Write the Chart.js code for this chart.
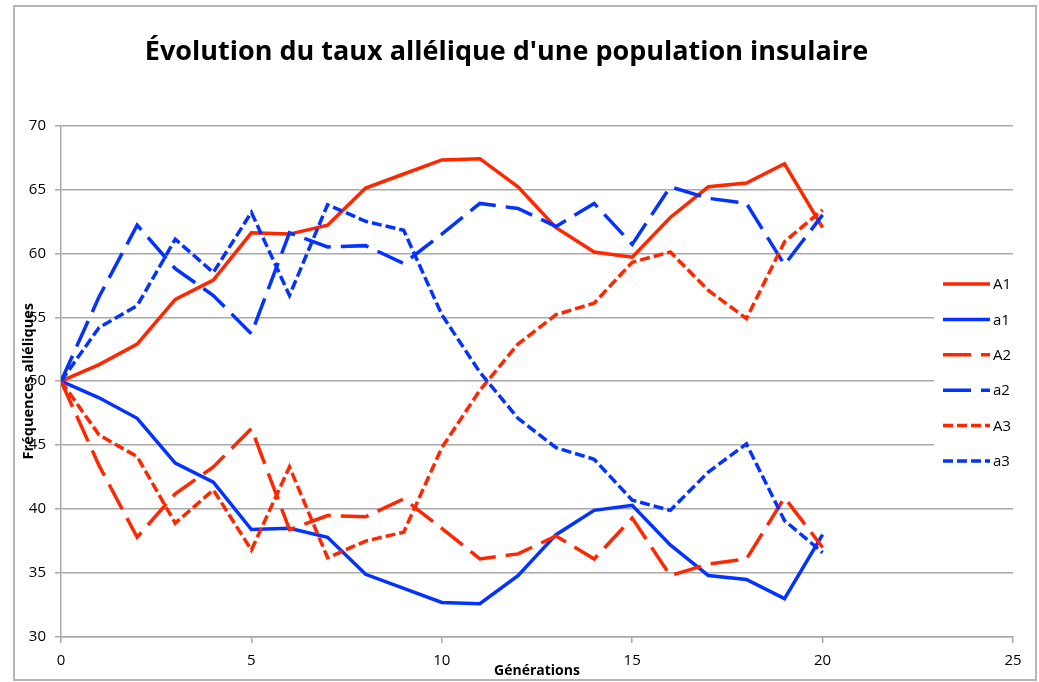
<!DOCTYPE html>
<html>
<head>
<meta charset="utf-8">
<script src="https://cdn.jsdelivr.net/npm/chart.js@4.4.0/dist/chart.umd.min.js"></script>
<style>
  html, body { margin: 0; padding: 0; background: #fff; }
</style>
</head>
<body>
<canvas id="allels" width="1039" height="682"></canvas>
<script>
var generations = [0, 1, 2, 3, 4, 5, 6, 7, 8, 9, 10, 11, 12, 13, 14, 15, 16, 17, 18, 19, 20];

var A1 = [50, 51.3, 52.9, 56.4, 57.9, 61.6, 61.5, 62.2, 65.1, 66.2, 67.3, 67.4, 65.2, 62.0, 60.1, 59.7, 62.8, 65.2, 65.5, 67.0, 62.0];
var a1 = [50, 48.7, 47.1, 43.6, 42.1, 38.4, 38.5, 37.8, 34.9, 33.8, 32.7, 32.6, 34.8, 38.0, 39.9, 40.3, 37.2, 34.8, 34.5, 33.0, 38.0];
var A2 = [50, 43.4, 37.8, 41.2, 43.3, 46.3, 38.4, 39.5, 39.4, 40.8, 38.5, 36.1, 36.5, 37.9, 36.1, 39.3, 34.8, 35.7, 36.1, 40.9, 37.0];
var a2 = [50, 56.6, 62.2, 58.8, 56.7, 53.7, 61.6, 60.5, 60.6, 59.2, 61.5, 63.9, 63.5, 62.1, 63.9, 60.7, 65.2, 64.3, 63.9, 59.1, 63.0];
var A3 = [50, 45.8, 44.1, 38.9, 41.5, 36.8, 43.3, 36.2, 37.5, 38.2, 44.8, 49.3, 52.9, 55.2, 56.1, 59.3, 60.1, 57.1, 54.9, 60.9, 63.4];
var a3 = [50, 54.2, 55.9, 61.1, 58.5, 63.2, 56.7, 63.8, 62.5, 61.8, 55.2, 50.7, 47.1, 44.8, 43.9, 40.7, 39.9, 42.9, 45.1, 39.1, 36.6];

var red = '#ff2600';
var blue = '#0433ff';
var gridColor = '#a9a9a9';
var longDash = [28, 10];
var shortDash = [10, 4];

function points(values) {
    return values.map(function(v, i) {
        return {x: generations[i], y: v};
    });
}

function serie(label, values, color, dash, order) {
    return {
        label: label,
        data: points(values),
        borderColor: color,
        backgroundColor: color,
        borderDash: dash,
        order: order
    };
}

// legend drawn over the plot area, like the original sheet
var sideLegend = {
    id: 'sideLegend',
    afterDraw: function(chart) {
        var ctx = chart.ctx;
        var area = chart.chartArea;
        var x0 = area.right - 70;
        ctx.save();
        ctx.fillStyle = '#fff';
        ctx.fillRect(x0 - 9, 262, 100, 222);
        chart.data.datasets.forEach(function(ds, i) {
            var y = 284 + i * 35.4;
            ctx.strokeStyle = ds.borderColor;
            ctx.lineWidth = 3.5;
            ctx.setLineDash(ds.borderDash);
            ctx.beginPath();
            ctx.moveTo(x0, y);
            ctx.lineTo(x0 + 47, y);
            ctx.stroke();
            ctx.fillStyle = '#000';
            ctx.font = '15px "Open Sans"';
            ctx.textBaseline = 'middle';
            ctx.fillText(ds.label, x0 + 50, y + 1);
        });
        ctx.setLineDash([]);
        ctx.strokeStyle = '#b5b5b5';
        ctx.lineWidth = 2;
        ctx.strokeRect(14, 6, 1022, 674);
        ctx.restore();
    }
};

var context = document.getElementById('allels').getContext('2d');
var chart = new Chart(context, {
    type: 'line',
    data: {
        datasets: [
            serie('A1', A1, red, [], 6),
            serie('a1', a1, blue, [], 5),
            serie('A2', A2, red, longDash, 4),
            serie('a2', a2, blue, longDash, 3),
            serie('A3', A3, red, shortDash, 2),
            serie('a3', a3, blue, shortDash, 1)
        ]
    },
    options: {
        responsive: false,
        animation: false,
        devicePixelRatio: 1,
        layout: {
            padding: {left: 0, right: 26, top: 0, bottom: 0}
        },
        elements: {
            line: {borderWidth: 3.5, tension: 0, fill: false},
            point: {radius: 0, hoverRadius: 0}
        },
        plugins: {
            legend: {display: false},
            tooltip: {enabled: false},
            title: {
                display: true,
                text: "Évolution du taux allélique d'une population insulaire",
                color: '#000',
                font: {family: 'Open Sans', size: 27, weight: 'bold'},
                padding: {top: 36, bottom: 57}
            }
        },
        scales: {
            x: {
                type: 'linear',
                min: 0,
                max: 25,
                ticks: {stepSize: 5, color: '#000', font: {family: 'Open Sans', size: 15}, padding: 9},
                grid: {drawOnChartArea: false, drawTicks: true, tickLength: 6, color: gridColor, lineWidth: 1.5},
                border: {color: gridColor, width: 1.5},
                title: {
                    display: true,
                    text: 'Générations',
                    color: '#000',
                    font: {family: 'Open Sans', size: 14, weight: 'bold'},
                    padding: {top: 0, bottom: 3}
                },
                afterFit: function(scale) { scale.height = 45; }
            },
            y: {
                min: 30,
                max: 70,
                ticks: {stepSize: 5, color: '#000', font: {family: 'Open Sans', size: 15}, padding: 9},
                grid: {color: gridColor, lineWidth: 1.5, tickLength: 6},
                border: {color: gridColor, width: 1.5},
                title: {
                    display: true,
                    text: 'Fréquences alléliques',
                    color: '#000',
                    font: {family: 'Open Sans', size: 14.5, weight: 'bold'},
                    padding: {top: 20, bottom: 0}
                },
                afterFit: function(scale) { scale.width = 61; }
            }
        }
    },
    plugins: [sideLegend]
});
</script>
</body>
</html>
